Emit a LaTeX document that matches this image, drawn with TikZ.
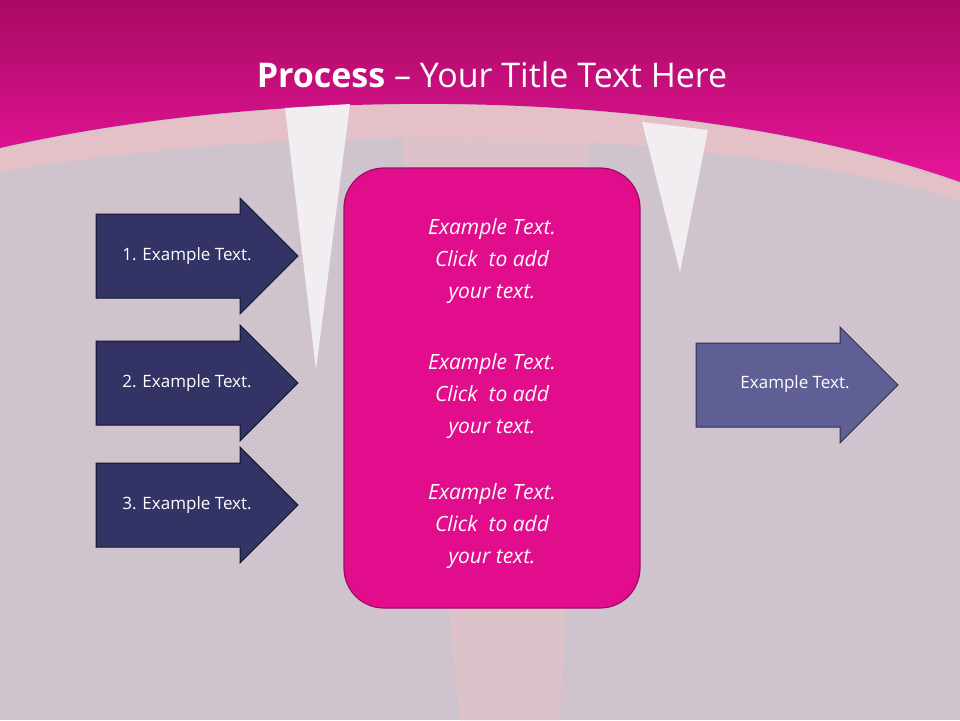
\documentclass[tikz,border=0pt]{standalone}
\usepackage{fontspec}
\setmainfont{Open Sans}
\definecolor{bg}{HTML}{CFC3CE}
\definecolor{topdark}{HTML}{A80A62}
\definecolor{toppink}{HTML}{E8149A}
\definecolor{boxfill}{HTML}{E20D8C}
\definecolor{boxline}{HTML}{9C0E66}
\definecolor{darkarrow}{HTML}{333366}
\definecolor{lightarrow}{HTML}{5F5F96}
\tikzset{
  arrowshape/.style={draw=black!60!darkarrow, line width=1pt, fill=darkarrow},
  atxt/.style={text=white, font=\fontsize{17}{20}\selectfont},
  btxt/.style={text=white, align=center, font=\itshape\fontsize{21}{32}\selectfont}
}
\newcommand{\myarrow}[3]{% x0, yc, style
  \draw[arrowshape,#3] (#1,#2-42) -- (#1+144,#2-42) -- (#1+144,#2-58) -- (#1+202,#2) -- (#1+144,#2+58) -- (#1+144,#2+42) -- (#1,#2+42) -- cycle;}
\begin{document}
\begin{tikzpicture}[x=1pt,y=-1pt]
\useasboundingbox (0,0) rectangle (960,720);
\fill[bg] (0,0) rectangle (960,720);
% light beam
\fill[pink!30!bg] (400,120) -- (590,120) -- (560,720) -- (460,720) -- cycle;
% light curved strip
\fill[pink!45!bg] (0,150) .. controls (300,80) and (700,90) .. (960,185) -- (960,200) .. controls (700,125) and (300,120) .. (0,172) -- cycle;
% top band
\shade[top color=topdark, bottom color=toppink] (0,0) -- (960,0) -- (960,182) .. controls (700,90) and (300,80) .. (0,148) -- cycle;
% white streaks
\fill[white!70!bg] (285,108) -- (350,104) -- (316,370) -- cycle;
\fill[white!70!bg] (642,122) -- (708,130) -- (680,272) -- cycle;
\node[text=white, font=\fontsize{34}{40}\selectfont] (title) at (492,75) {\textbf{Process} -- Your Title Text Here};
% arrows
\myarrow{96}{256}{}
\myarrow{96}{383}{}
\myarrow{96}{505}{}
\myarrow{696}{385}{fill=lightarrow, draw=black!50!lightarrow}
\node[atxt] (a1) at (187,256) {1. Example Text.};
\node[atxt] (a2) at (187,383) {2. Example Text.};
\node[atxt] (a3) at (187,505) {3. Example Text.};
\node[atxt] (r) at (795,384) {Example Text.};
% box
\draw[fill=boxfill, draw=boxline, line width=1.2pt, rounded corners=40pt] (344,168) rectangle (640,608);
\node[btxt] (t1) at (492,261) {Example Text.\\Click\ \ to add\\your text.};
\node[btxt] (t2) at (492,396) {Example Text.\\Click\ \ to add\\your text.};
\node[btxt] (t3) at (492,526) {Example Text.\\Click\ \ to add\\your text.};
\end{tikzpicture}
\end{document}
